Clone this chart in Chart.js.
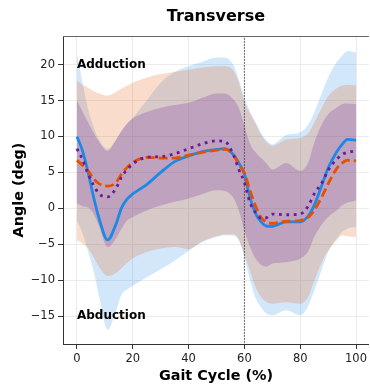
<!DOCTYPE html>
<html>
<head>
<meta charset="utf-8">
<script src="https://cdn.jsdelivr.net/npm/chart.js@4/dist/chart.umd.min.js"></script>
<style>
  html, body { margin: 0; padding: 0; background: #fff; }
  #wrap { width: 370px; height: 389px; }
</style>
</head>
<body>
<div id="wrap"><canvas id="chart"></canvas></div>
<script>
// gait cycle sample points (%)
const cycle = [0, 2, 4, 6, 8, 11, 14, 16, 18, 20, 25, 30, 35, 40, 45, 50, 53, 56, 58, 60,
               62, 64, 66, 68, 70, 75, 80, 83, 85, 88, 90, 93, 95, 97, 100];

// blue (solid) mean and band
const blueMean = [10, 8, 5, 1.5, -1.5, -4.4, -2.2, 0.1, 1.3, 2, 3.3, 5, 6.5, 7.3, 7.9, 8.2, 8.3, 7.5, 6.3, 4.8,
                  1.5, -0.7, -1.9, -2.5, -2.5, -1.9, -1.9, -1.0, 0.4, 3.5, 5.6, 7.8, 8.9, 9.6, 9.5];
const blueHi = [21.5, 17.5, 13.8, 11.3, 9.5, 8.3, 9.6, 10.8, 11.8, 12.6, 15, 17.5, 19, 19.8, 20.4, 21, 21, 20, 18, 15.4,
                13.5, 12, 10.5, 9.4, 8.9, 10.2, 10.6, 11.7, 13.3, 16.3, 18.2, 20.3, 21.2, 21.9, 21.7];
const blueLo = [-1.7, -3.5, -6, -8.8, -12.4, -16.9, -14.3, -12, -11.3, -10.8, -9.6, -8.5, -7.3, -5.9, -4.7, -4.0, -3.8, -3.8, -4.5, -6.8,
                -10, -12.5, -13.8, -14.7, -14.9, -14.2, -14.9, -13.5, -11.5, -8.2, -6.1, -4.2, -3.3, -2.8, -2.6];

// orange (dashed) mean and band
const orangeMean = [6.7, 6.0, 5.2, 4.1, 3.4, 3.1, 3.6, 4.8, 5.7, 6.4, 7.1, 7.0, 7.0, 7.4, 7.8, 8.1, 8.2, 7.5, 6.1, 4.9,
                    2.5, 0.3, -1.3, -1.9, -2.1, -1.8, -1.7, -1.2, -0.3, 1.8, 3.4, 5.5, 6.3, 6.7, 6.6];
const orangeHi = [17.8, 17.2, 16.8, 16.3, 16, 15.7, 16.2, 16.7, 17.1, 17.5, 18.2, 18.7, 19, 19.3, 19.6, 19.8, 19.8, 19.2, 17.5, 14.9,
                  13.2, 11.8, 10.2, 9.2, 8.7, 9.6, 9.8, 10.5, 11.9, 14.2, 15.6, 16.7, 17.1, 17.2, 17.1];
const orangeLo = [-4.5, -4.9, -5.6, -6.8, -8.2, -9.4, -9, -8.3, -7.6, -7, -6.1, -5.6, -5.4, -5.7, -4.6, -3.9, -3.6, -3.6, -4.3, -6.4,
                  -8.7, -11, -12.4, -13.1, -13.3, -13.1, -13.3, -12.2, -10.1, -7.3, -5.9, -4.5, -3.8, -3.9, -4.0];

// purple (dotted) mean and band
const purpleMean = [8.3, 6.8, 4.8, 3.2, 2.0, 1.6, 2.8, 4.4, 5.4, 6.2, 7.1, 7.2, 7.6, 8.3, 9.0, 9.4, 9.3, 7.5, 5.4, 3.6,
                    0.8, -0.6, -1.4, -1.3, -0.8, -0.9, -0.8, 0.4, 2.0, 3.7, 5.3, 6.8, 7.5, 7.8, 8.0];
const purpleHi = [15, 13.5, 12, 10.5, 9.2, 8.0, 9.5, 10.8, 11.8, 12.5, 13.4, 14, 14.4, 14.7, 15.4, 16, 16, 15.2, 14, 11.5,
                  9, 7.8, 7, 6.2, 5.4, 6.3, 5.2, 6.5, 9.1, 11.9, 13.1, 14, 14.5, 14.6, 14.5];
const purpleLo = [0.7, 0.3, 0.1, -0.8, -2.6, -5.4, -4.2, -2.8, -1.7, -1.2, -0.3, 0.4, 0.9, 1.35, 2.0, 2.5, 2.4, 1.5, -0.3, -3.1,
                  -5.4, -7, -7.9, -8.1, -7.7, -7.5, -7.0, -5.9, -4.0, -2.1, -1.2, -0.3, 0.4, 0.8, 1.1];

const xTicks = [0, 20, 40, 60, 80, 100];
const yTicks = [-15, -10, -5, 0, 5, 10, 15, 20];
const toeOff = 60;
const notes = [
    { text: 'Adduction', x: 0, y: 20 },
    { text: 'Abduction', x: 0, y: -15 }
];

const FONT = "'DejaVu Sans', sans-serif";
const pts = arr => arr.map((v, i) => ({ x: cycle[i], y: v }));

function band(lo, hi, color, order, idx) {
    return [
        { data: pts(lo), borderWidth: 0, pointRadius: 0, fill: false, order: order + 1,
          cubicInterpolationMode: 'monotone' },
        { data: pts(hi), borderWidth: 0, pointRadius: 0, fill: { target: idx }, backgroundColor: color,
          order: order, cubicInterpolationMode: 'monotone' }
    ];
}

const datasets = [
    ...band(blueLo, blueHi, 'rgba(30, 136, 229, 0.2)', 30, 0),
    ...band(orangeLo, orangeHi, 'rgba(230, 81, 0, 0.2)', 20, 2),
    ...band(purpleLo, purpleHi, 'rgba(106, 27, 154, 0.22)', 10, 4),
    { data: [{ x: toeOff, y: -30 }, { x: toeOff, y: 30 }], borderColor: '#444', borderWidth: 1,
      borderDash: [1.5, 1.5], pointRadius: 0, fill: false, order: 5 },
    { data: pts(blueMean), borderColor: '#1E88E5', borderWidth: 2.8, pointRadius: 0, fill: false,
      order: 3, cubicInterpolationMode: 'monotone' },
    { data: pts(orangeMean), borderColor: '#E65100', borderWidth: 2.8, borderDash: [9, 4], pointRadius: 0,
      fill: false, order: 2, cubicInterpolationMode: 'monotone' },
    { data: pts(purpleMean), borderColor: '#6A1B9A', borderWidth: 2.8, borderDash: [2.8, 4.6], pointRadius: 0,
      fill: false, order: 1, cubicInterpolationMode: 'monotone' }
];

// title, notes and top frame line
const decor = {
    id: 'decor',
    afterDraw(chart) {
        const { ctx, chartArea: a, scales } = chart;
        ctx.save();
        ctx.strokeStyle = '#666';
        ctx.lineWidth = 1;
        ctx.beginPath();
        ctx.moveTo(a.left, a.top + 0.5);
        ctx.lineTo(a.right, a.top + 0.5);
        ctx.stroke();

        ctx.fillStyle = '#000';
        ctx.textAlign = 'center';
        ctx.textBaseline = 'middle';
        ctx.font = 'bold 16px ' + FONT;
        ctx.fillText('Transverse', (a.left + a.right) / 2, 17);

        ctx.textAlign = 'left';
        ctx.font = 'bold 12px ' + FONT;
        notes.forEach(n => {
            ctx.fillText(n.text, scales.x.getPixelForValue(n.x), scales.y.getPixelForValue(n.y));
        });
        ctx.restore();
    }
};

new Chart(document.getElementById('chart'), {
    type: 'line',
    data: { datasets },
    options: {
        responsive: true,
        maintainAspectRatio: false,
        animation: false,
        layout: { padding: { top: 36, left: 0, right: 0, bottom: 0 } },
        plugins: {
            legend: { display: false },
            tooltip: { enabled: false }
        },
        scales: {
            x: {
                type: 'linear',
                min: -5,
                max: 104.6,
                afterBuildTicks: s => { s.ticks = xTicks.map(v => ({ value: v })); },
                afterFit: s => { s.height = 45; },
                ticks: { color: '#222', font: { family: FONT, size: 11.5 }, padding: 3, maxRotation: 0 },
                grid: { color: '#ebebeb', lineWidth: 1, tickColor: '#333', tickLength: 5 },
                border: { color: '#333', width: 1 },
                title: { display: true, text: 'Gait Cycle (%)', color: '#000',
                         font: { family: FONT, size: 14.4, weight: 'bold' }, padding: { bottom: 4 } }
            },
            y: {
                type: 'linear',
                min: -18.9,
                max: 24.0,
                afterBuildTicks: s => { s.ticks = yTicks.map(v => ({ value: v })); },
                afterFit: s => { s.width = 63; },
                ticks: { color: '#222', font: { family: FONT, size: 11.5 }, padding: 3,
                         callback: v => String(v).replace('-', '\u2212') },
                grid: { color: '#ebebeb', lineWidth: 1, tickColor: '#333', tickLength: 5 },
                border: { color: '#333', width: 1 },
                title: { display: true, text: 'Angle (deg)', color: '#000',
                         font: { family: FONT, size: 14.4, weight: 'bold' }, padding: { top: 11 } }
            }
        }
    },
    plugins: [decor]
});
</script>
</body>
</html>
